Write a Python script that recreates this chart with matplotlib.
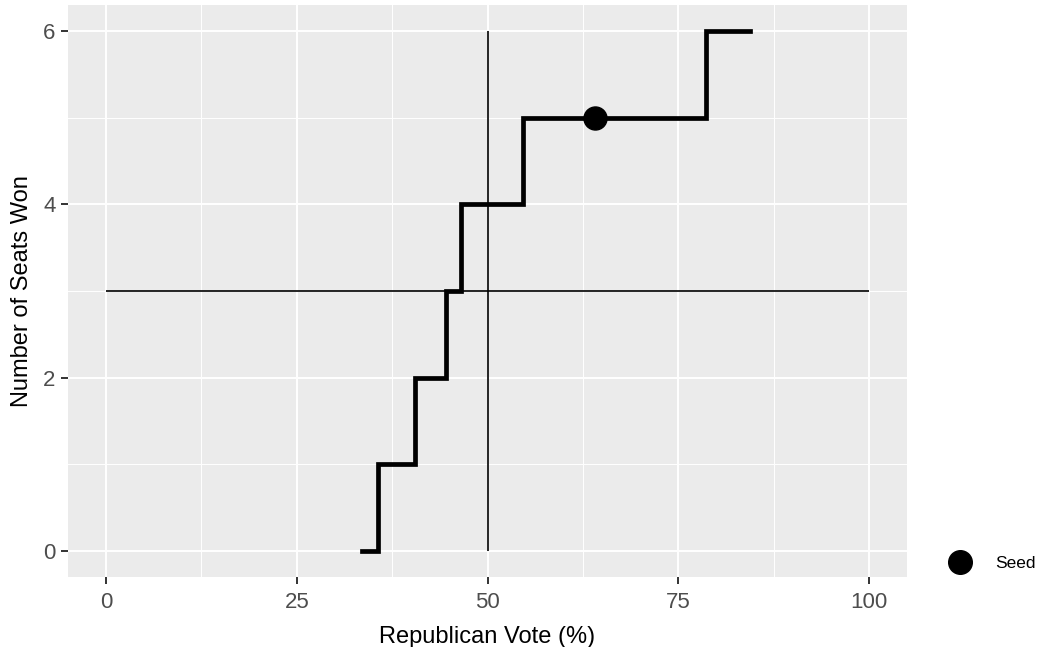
import matplotlib.pyplot as plt
from matplotlib.lines import Line2D

plt.rcParams['font.family'] = ['Liberation Sans', 'DejaVu Sans']

# step breakpoints (Republican vote %) and seats won from that point on
vote = [33.6, 35.6, 40.5, 44.55, 46.5, 54.7, 78.6, 84.4]
seats = [0, 1, 2, 3, 4, 5, 6, 6]
seed_vote = 64.1
seed_seats = 5
majority_seats = 3
half_vote = 50

fig = plt.figure(figsize=(10.44, 6.47), dpi=100)
ax = fig.add_axes([68 / 1044, 70 / 647, (907 - 68) / 1044, (577 - 5) / 647])
ax.set_facecolor('#EBEBEB')
for s in ax.spines.values():
    s.set_visible(False)

ax.set_xlim(-5, 105)
ax.set_ylim(-0.3, 6.3)
ax.set_xticks([0, 25, 50, 75, 100])
ax.set_yticks([0, 2, 4, 6])
ax.set_xticks([12.5, 37.5, 62.5, 87.5], minor=True)
ax.set_yticks([1, 3, 5], minor=True)
ax.grid(True, which='major', color='white', linewidth=1.4)
ax.grid(True, which='minor', color='white', linewidth=0.7)
ax.set_axisbelow(True)
ax.tick_params(which='major', length=5, width=1.4, color='#333333',
               labelsize=16, labelcolor='#4D4D4D', pad=4)
ax.tick_params(axis='x', which='major', pad=6)
ax.tick_params(which='minor', length=0)

ax.hlines(majority_seats, 0, 100, color='black', linewidth=1.2)
ax.vlines(half_vote, 0, 6, color='black', linewidth=1.2)
ax.step(vote, seats, where='post', color='black', linewidth=3.4,
        solid_joinstyle='miter', zorder=3)
ax.scatter([seed_vote], [seed_seats], s=275, color='black', zorder=4)

ax.set_xlabel('Republican Vote (%)', fontsize=17, labelpad=9)
ax.set_ylabel('Number of Seats Won', fontsize=17, labelpad=7)

handle = Line2D([], [], marker='o', linestyle='none', color='black', markersize=17)
fig.legend([handle], ['Seed'], loc='center left', bbox_to_anchor=(927 / 1044, 1 - 563 / 647),
           frameon=False, fontsize=12.5, handletextpad=1.0)

fig.savefig('out.png', dpi=100)
